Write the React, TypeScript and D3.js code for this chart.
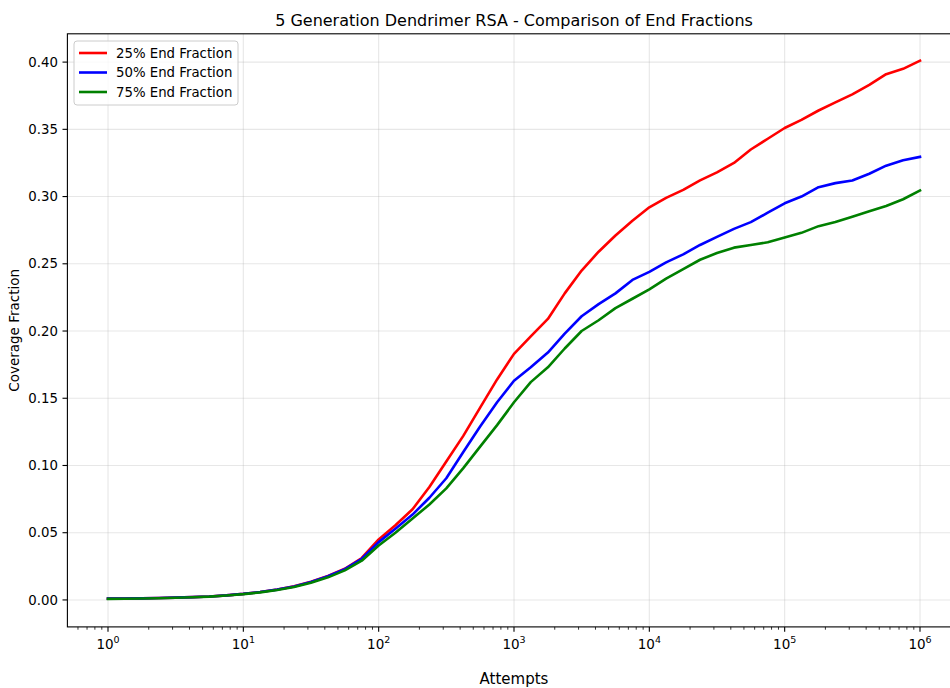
import React from 'react';
import * as d3 from 'd3';

// x values (attempts), roughly 8 per decade
const attempts = [
  1, 1.33, 1.78, 2.37, 3.16, 4.22, 5.62, 7.5,
  10, 13.3, 17.8, 23.7, 31.6, 42.2, 56.2, 75,
  100, 133, 178, 237, 316, 422, 562, 750,
  1000, 1330, 1780, 2370, 3160, 4220, 5620, 7500,
  10000, 13300, 17800, 23700, 31600, 42200, 56200, 75000,
  100000, 133000, 178000, 237000, 316000, 422000, 562000, 750000,
  1000000,
];

const frac25 = [
  0.0010, 0.0011, 0.0012, 0.0014, 0.0017, 0.0021, 0.0026, 0.0034,
  0.0045, 0.0059, 0.0078, 0.0101, 0.0135, 0.0178, 0.0232, 0.0312,
  0.0450, 0.0555, 0.0675, 0.0840, 0.1030, 0.1220, 0.1430, 0.1640,
  0.1830, 0.1960, 0.2090, 0.2280, 0.2450, 0.2590, 0.2710, 0.2820,
  0.2920, 0.2990, 0.3050, 0.3120, 0.3180, 0.3250, 0.3350, 0.3430,
  0.3510, 0.3570, 0.3640, 0.3700, 0.3760, 0.3830, 0.3910, 0.3950,
  0.4010,
];

const frac50 = [
  0.0010, 0.0011, 0.0012, 0.0014, 0.0017, 0.0021, 0.0026, 0.0034,
  0.0045, 0.0059, 0.0077, 0.0100, 0.0133, 0.0176, 0.0229, 0.0306,
  0.0430, 0.0530, 0.0635, 0.0760, 0.0905, 0.1100, 0.1290, 0.1470,
  0.1630, 0.1730, 0.1840, 0.1980, 0.2110, 0.2200, 0.2280, 0.2380,
  0.2440, 0.2510, 0.2570, 0.2640, 0.2700, 0.2760, 0.2810, 0.2880,
  0.2950, 0.3000, 0.3070, 0.3100, 0.3120, 0.3170, 0.3230, 0.3270,
  0.3295,
];

const frac75 = [
  0.0008, 0.0009, 0.0011, 0.0013, 0.0016, 0.0020, 0.0025, 0.0033,
  0.0043, 0.0056, 0.0074, 0.0096, 0.0128, 0.0168, 0.0220, 0.0292,
  0.0405, 0.0500, 0.0605, 0.0710, 0.0830, 0.0980, 0.1140, 0.1300,
  0.1470, 0.1620, 0.1730, 0.1870, 0.2000, 0.2080, 0.2170, 0.2240,
  0.2310, 0.2390, 0.2460, 0.2530, 0.2580, 0.2620, 0.2640, 0.2660,
  0.2695, 0.2730, 0.2780, 0.2810, 0.2850, 0.2890, 0.2930, 0.2980,
  0.3045,
];

const seriesNames = ['25% End Fraction', '50% End Fraction', '75% End Fraction'];
const seriesColors = ['#ff0000', '#0000ff', '#008000'];
const seriesValues = [frac25, frac50, frac75];

const xTickExps = [0, 1, 2, 3, 4, 5, 6];
const yTickValues = [0, 0.05, 0.1, 0.15, 0.2, 0.25, 0.3, 0.35, 0.4];

const App = () => {
  const width = 950;
  const height = 688;
  // plot box (right side runs past the picture edge)
  const left = 67.4, right = 960.6, top = 33.8, bottom = 626.9;
  const font = 'DejaVu Sans, sans-serif';

  const xScale = d3.scaleLog().domain([Math.pow(10, -0.3), Math.pow(10, 6.3)]).range([left, right]);
  const yScale = d3.scaleLinear().domain([-0.02005, 0.42105]).range([bottom, top]);

  const line = d3.line<[number, number]>()
    .x(d => xScale(d[0]))
    .y(d => yScale(d[1]));

  // minor ticks 2..9 x 10^k
  const minor: number[] = [];
  for (let k = -1; k <= 6; k++) {
    for (let m = 2; m <= 9; m++) {
      const v = m * Math.pow(10, k);
      if (v > xScale.domain()[0] && v < xScale.domain()[1]) minor.push(v);
    }
  }

  const fmt = d3.format('.2f');

  return (
    <svg width={width} height={height} style={{ position: 'absolute', left: 0, top: 0, background: '#fff' }}>
      <rect x={0} y={0} width={width} height={height} fill="#fff" />
      {/* grid */}
      <g stroke="#b0b0b0" strokeOpacity={0.3} strokeWidth={1.1}>
        {xTickExps.map(e => (
          <line key={'gx' + e} x1={xScale(Math.pow(10, e))} x2={xScale(Math.pow(10, e))} y1={top} y2={bottom} />
        ))}
        {yTickValues.map(v => (
          <line key={'gy' + v} x1={left} x2={right} y1={yScale(v)} y2={yScale(v)} />
        ))}
      </g>

      {/* data lines */}
      <g fill="none" strokeWidth={2.6} strokeLinejoin="round" strokeLinecap="square">
        {seriesValues.map((vals, i) => (
          <path key={seriesNames[i]} d={line(attempts.map((a, j) => [a, vals[j]] as [number, number])) || ''} stroke={seriesColors[i]} />
        ))}
      </g>

      {/* spines */}
      <rect x={left} y={top} width={right - left} height={bottom - top} fill="none" stroke="#000" strokeWidth={1.1} />

      {/* x axis ticks */}
      <g stroke="#000">
        {xTickExps.map(e => (
          <line key={'tx' + e} x1={xScale(Math.pow(10, e))} x2={xScale(Math.pow(10, e))} y1={bottom} y2={bottom + 4.9} strokeWidth={1.1} />
        ))}
        {minor.map(v => (
          <line key={'mx' + v} x1={xScale(v)} x2={xScale(v)} y1={bottom} y2={bottom + 2.8} strokeWidth={0.8} />
        ))}
        {yTickValues.map(v => (
          <line key={'ty' + v} x1={left - 4.9} x2={left} y1={yScale(v)} y2={yScale(v)} strokeWidth={1.1} />
        ))}
      </g>

      <g fontFamily={font} fill="#000">
        {xTickExps.map(e => (
          <text key={'lx' + e} x={xScale(Math.pow(10, e))} y={bottom + 22} textAnchor="middle" fontSize={13.5}>
            <tspan>10</tspan>
            <tspan dy={-6} fontSize={9.5}>{e}</tspan>
          </text>
        ))}
        {yTickValues.map(v => (
          <text key={'ly' + v} x={left - 9.5} y={yScale(v)} dy="0.35em" textAnchor="end" fontSize={13.3}>{fmt(v)}</text>
        ))}
        <text x={(left + right) / 2} y={26} textAnchor="middle" fontSize={16}>5 Generation Dendrimer RSA - Comparison of End Fractions</text>
        <text x={(left + right) / 2} y={684} textAnchor="middle" fontSize={15}>Attempts</text>
        <text transform={`translate(19,${(top + bottom) / 2}) rotate(-90)`} textAnchor="middle" fontSize={13.5}>Coverage Fraction</text>
      </g>

      {/* legend */}
      <g fontFamily={font}>
        <rect x={74} y={41} width={164} height={64} rx={3} fill="#fff" fillOpacity={0.8} stroke="#cccccc" strokeWidth={1} />
        {seriesNames.map((name, i) => (
          <g key={'lg' + i} transform={`translate(0,${53 + i * 19.5})`}>
            <line x1={79} x2={107} y1={0} y2={0} stroke={seriesColors[i]} strokeWidth={2.6} />
            <text x={116} y={0} dy="0.35em" fontSize={13.3} fill="#000">{name}</text>
          </g>
        ))}
      </g>
    </svg>
  );
};

export default App;
